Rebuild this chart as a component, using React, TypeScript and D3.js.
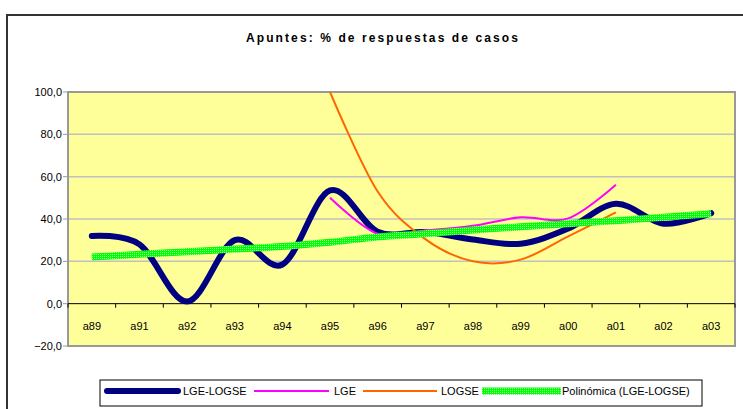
import React from "react";
import * as d3 from "d3";

const categories = ["a89", "a91", "a92", "a93", "a94", "a95", "a96", "a97", "a98", "a99", "a00", "a01", "a02", "a03"];
const lgeLogse: (number | null)[] = [32, 28, 1, 30, 18.5, 53.5, 34, 33.8, 30.3, 28.3, 35.5, 47.2, 37.8, 42.8];
const lge: (number | null)[] = [null, null, null, null, null, 50, 33, 34.6, 36.8, 40.8, 40.3, 56.2, null, null];
const logse: (number | null)[] = [null, null, null, null, null, 100, 53, 30.5, 20, 20.8, 31.8, 43.1, null, null];
const trend: number[] = [22, 23.3, 24.5, 25.8, 27, 29, 31.5, 33, 34.8, 36.3, 37.8, 39.2, 40.8, 42.5];
const yTicks = [-20, 0, 20, 40, 60, 80, 100];
const title = "Apuntes: % de respuestas de casos";
const legendNames = ["LGE-LOGSE", "LGE", "LOGSE", "Polinómica (LGE-LOGSE)"];

const W = 743, H = 409;
const plot = { left: 68, top: 92, right: 735, bottom: 346 };

export default function App() {
  const x = d3.scaleBand<string>().domain(categories).range([plot.left, plot.right]).padding(0);
  const y = d3.scaleLinear().domain([-20, 100]).range([plot.bottom, plot.top]);
  const cx = (c: string) => (x(c) as number) + x.bandwidth() / 2;

  const mkLine = (vals: (number | null)[]) => {
    const pts = categories.map((c, i) => ({ c, v: vals[i] })).filter(p => p.v !== null) as { c: string; v: number }[];
    return d3.line<{ c: string; v: number }>().x(p => cx(p.c)).y(p => y(p.v)).curve(d3.curveCardinal.tension(0))(pts) || "";
  };

  const font = "'Liberation Sans', Arial, sans-serif";
  const boundaries = d3.range(categories.length + 1).map(i => plot.left + i * x.bandwidth());

  const legendItems = [
    { name: legendNames[0], x1: 107, x2: 178, tx: 183, stroke: "#000080", w: 6 },
    { name: legendNames[1], x1: 254, x2: 329, tx: 334, stroke: "#FF00FF", w: 2 },
    { name: legendNames[2], x1: 363, x2: 437, tx: 441, stroke: "#FF6600", w: 2 },
    { name: legendNames[3], x1: 482, x2: 561, tx: 562, stroke: "url(#greenPat)", w: 7 },
  ];

  return (
    <svg width={W} height={H} style={{ position: "absolute", left: 0, top: 0, background: "#fff" }} fontFamily={font}>
      <defs>
        <pattern id="greenPat" width="2" height="2" patternUnits="userSpaceOnUse">
          <rect width="2" height="2" fill="#00FF00" />
          <rect width="1" height="1" fill="#99FF99" />
        </pattern>
        <clipPath id="plotClip">
          <rect x={plot.left} y={plot.top} width={plot.right - plot.left} height={plot.bottom - plot.top} />
        </clipPath>
      </defs>
      <rect x={7} y={15} width={800} height={500} fill="#fff" stroke="#333" strokeWidth={2} />
      <text x={383} y={42} textAnchor="middle" fontWeight="bold" fontSize={12} letterSpacing={2.1}>{title}</text>

      <rect x={plot.left} y={plot.top} width={plot.right - plot.left} height={plot.bottom - plot.top} fill="#FFFF99" />
      {yTicks.filter(t => t > -20 && t < 100 && t !== 0).map(t => (
        <line key={t} x1={plot.left} x2={plot.right} y1={y(t)} y2={y(t)} stroke="#C0C0C0" strokeWidth={1.5} />
      ))}
      {yTicks.map(t => (
        <g key={"yt" + t}>
          <line x1={plot.left - 5} x2={plot.left} y1={y(t)} y2={y(t)} stroke="#999" strokeWidth={1} />
          <text x={plot.left - 6} y={y(t)} dy="0.35em" textAnchor="end" fontSize={11}>{d3.format(".1f")(t).replace(".", ",")}</text>
        </g>
      ))}
      <rect x={plot.left} y={plot.top} width={plot.right - plot.left} height={plot.bottom - plot.top} fill="none" stroke="#999" strokeWidth={2} />
      <line x1={plot.left} x2={plot.right} y1={y(0)} y2={y(0)} stroke="#000" strokeWidth={1} />
      {boundaries.map((b, i) => (
        <line key={"tk" + i} x1={b} x2={b} y1={y(0)} y2={y(0) + 4} stroke="#000" strokeWidth={1} />
      ))}
      {categories.map(c => (
        <text key={c} x={cx(c)} y={y(0) + 22} dy="0.35em" textAnchor="middle" fontSize={11}>{c}</text>
      ))}

      <g clipPath="url(#plotClip)" fill="none">
        <path d={mkLine(lgeLogse)} stroke="#000080" strokeWidth={6} strokeLinecap="round" strokeLinejoin="round" />
        <path d={mkLine(lge)} stroke="#FF00FF" strokeWidth={2} />
        <path d={mkLine(logse)} stroke="#FF6600" strokeWidth={2} />
        <path d={mkLine(trend)} stroke="url(#greenPat)" strokeWidth={7} />
      </g>

      <rect x={100} y={380} width={602} height={26} fill="#fff" stroke="#000" strokeWidth={1} />
      {legendItems.map(it => (
        <g key={it.name}>
          <line x1={it.x1} x2={it.x2} y1={391} y2={391} stroke={it.stroke} strokeWidth={it.w} strokeLinecap={it.w === 6 ? "round" : "butt"} />
          <text x={it.tx} y={391} dy="0.35em" fontSize={11}>{it.name}</text>
        </g>
      ))}
    </svg>
  );
}
